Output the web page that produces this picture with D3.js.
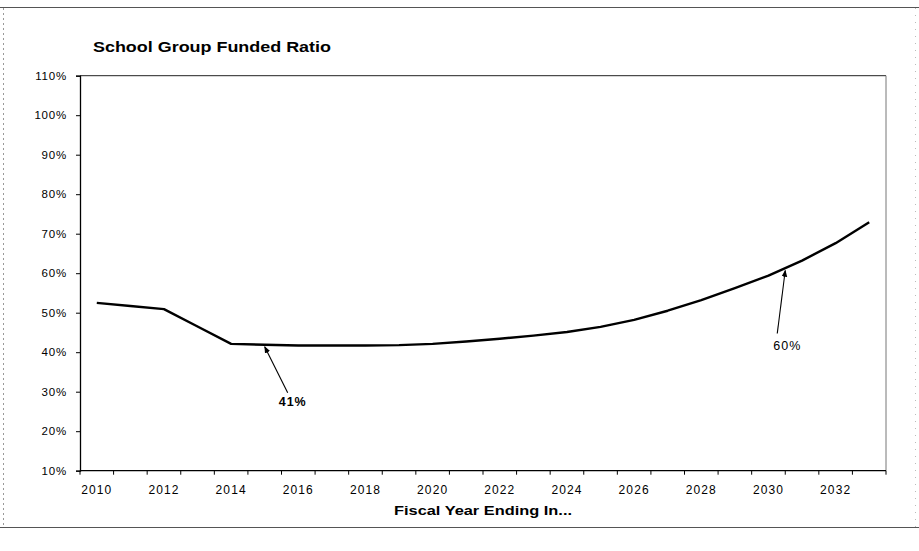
<!DOCTYPE html>
<html>
<head>
<meta charset="utf-8">
<script src="https://cdn.jsdelivr.net/npm/d3@7"></script>
<style>
  html, body { margin: 0; padding: 0; background: #fff; }
  svg { display: block; font-family: "Liberation Sans", Arial, sans-serif; }
</style>
</head>
<body>
<svg id="chart" width="919" height="551"></svg>
<script>
// ---- Data ----
const years = [2010, 2011, 2012, 2013, 2014, 2015, 2016, 2017, 2018, 2019, 2020, 2021,
               2022, 2023, 2024, 2025, 2026, 2027, 2028, 2029, 2030, 2031, 2032, 2033];
const fundedRatio = [52.5, 51.7, 50.9, 46.5, 42.1, 41.9, 41.7, 41.7, 41.7, 41.8, 42.1, 42.7,
                     43.4, 44.2, 45.1, 46.4, 48.2, 50.5, 53.2, 56.2, 59.4, 63.2, 67.6, 72.9];
const xLabelYears = [2010, 2012, 2014, 2016, 2018, 2020, 2022, 2024, 2026, 2028, 2030, 2032];
const yTicks = [10, 20, 30, 40, 50, 60, 70, 80, 90, 100, 110];
const chartTitle = "School Group Funded Ratio";
const xTitle = "Fiscal Year Ending In...";
const annotations = [
  { label: "41%", year: 2015, value: 41.9, dx: 23, dy: 48, bold: true },
  { label: "60%", year: 2030.5, value: 61.2, dx: -8, dy: 65, bold: false }
];

// ---- Layout ----
const svg = d3.select("#chart");
const pLeft = 80, pRight = 886, pTop = 75.7, pBottom = 470.7;

const x = d3.scaleBand().domain(years).range([pLeft, pRight]).paddingInner(0).paddingOuter(0);
const bw = x.bandwidth();
const xc = yr => {
  const i = Math.floor(yr);
  return x(i) + bw / 2 + (yr - i) * bw;
};
const y = d3.scaleLinear().domain([10, 110]).range([pBottom, pTop]);

// outer frame
svg.append("line").attr("x1", 0).attr("x2", 919).attr("y1", 7.5).attr("y2", 7.5)
  .attr("stroke", "#555").attr("stroke-width", 1.2);
svg.append("line").attr("x1", 0).attr("x2", 919).attr("y1", 527.5).attr("y2", 527.5)
  .attr("stroke", "#555").attr("stroke-width", 1.2);
svg.append("line").attr("x1", 3.5).attr("x2", 3.5).attr("y1", 8).attr("y2", 527)
  .attr("stroke", "#999").attr("stroke-dasharray", "2,3");
svg.append("line").attr("x1", 915.5).attr("x2", 915.5).attr("y1", 8).attr("y2", 527)
  .attr("stroke", "#bbb").attr("stroke-dasharray", "1,6");

// plot area border (top & right)
svg.append("line").attr("x1", pLeft).attr("x2", pRight).attr("y1", pTop).attr("y2", pTop)
  .attr("stroke", "#222").attr("stroke-width", 1);
svg.append("line").attr("x1", pRight).attr("x2", pRight).attr("y1", pTop).attr("y2", pBottom)
  .attr("stroke", "#777").attr("stroke-width", 1);

// title
svg.append("text").attr("x", 93).attr("y", 52)
  .attr("font-size", 14).attr("font-weight", "bold").attr("fill", "#000")
  .attr("textLength", 238).attr("lengthAdjust", "spacingAndGlyphs")
  .text(chartTitle);

// y axis
const yAxis = svg.append("g").attr("transform", `translate(${pLeft},0)`)
  .call(d3.axisLeft(y).tickValues(yTicks).tickSize(4).tickPadding(9).tickFormat(d => d + "%"));
yAxis.select(".domain").attr("stroke", "#000").attr("stroke-width", 1.3);
yAxis.selectAll(".tick line").attr("stroke", "#000");
yAxis.selectAll(".tick text").attr("font-size", 11.5).attr("fill", "#000")
  .attr("font-family", "Liberation Sans, Arial, sans-serif")
  .attr("letter-spacing", "0.8px");

// x axis: labels at category centres
const xAxis = svg.append("g").attr("transform", `translate(0,${pBottom})`)
  .call(d3.axisBottom(x).tickValues(xLabelYears).tickSize(0).tickPadding(15));
xAxis.select(".domain").remove();
xAxis.selectAll(".tick text").attr("font-size", 12).attr("fill", "#000")
  .attr("font-family", "Liberation Sans, Arial, sans-serif")
  .attr("letter-spacing", "1.1px");
svg.append("line").attr("x1", pLeft).attr("x2", pRight).attr("y1", pBottom).attr("y2", pBottom)
  .attr("stroke", "#000").attr("stroke-width", 1.3);
// boundary ticks between categories
const bounds = years.map(yr => x(yr)).concat([x(years[years.length - 1]) + bw]);
svg.append("g").selectAll("line").data(bounds).join("line")
  .attr("x1", d => d).attr("x2", d => d)
  .attr("y1", pBottom).attr("y2", pBottom + 4)
  .attr("stroke", "#000").attr("stroke-width", 1);

// x axis title
svg.append("text").attr("x", (pLeft + pRight) / 2).attr("y", 515)
  .attr("text-anchor", "middle").attr("font-size", 12.5).attr("font-weight", "bold")
  .attr("textLength", 178).attr("lengthAdjust", "spacingAndGlyphs")
  .text(xTitle);

// line
const line = d3.line().x((d, i) => xc(years[i])).y(d => y(d));
svg.append("path").datum(fundedRatio)
  .attr("d", line).attr("fill", "none").attr("stroke", "#000")
  .attr("stroke-width", 2.4).attr("stroke-linejoin", "round");

// annotations
const defs = svg.append("defs");
defs.append("marker").attr("id", "arrow").attr("viewBox", "0 0 10 10")
  .attr("refX", 9).attr("refY", 5).attr("markerWidth", 7).attr("markerHeight", 7)
  .attr("orient", "auto").attr("markerUnits", "userSpaceOnUse")
  .append("path").attr("d", "M0,1 L10,5 L0,9 Z").attr("fill", "#000");

annotations.forEach(a => {
  const hx = xc(a.year), hy = y(a.value);
  const tx = hx + a.dx, ty = hy + a.dy;
  svg.append("line").attr("x1", tx).attr("y1", ty).attr("x2", hx).attr("y2", hy + 2)
    .attr("stroke", "#000").attr("stroke-width", 1.1).attr("marker-end", "url(#arrow)");
  svg.append("text").attr("x", tx + (a.bold ? 5 : 10)).attr("y", ty + (a.bold ? 13 : 17))
    .attr("text-anchor", "middle").attr("font-size", 12.5)
    .attr("font-weight", a.bold ? "bold" : "normal")
    .attr("letter-spacing", "1px")
    .text(a.label);
});
</script>
</body>
</html>
